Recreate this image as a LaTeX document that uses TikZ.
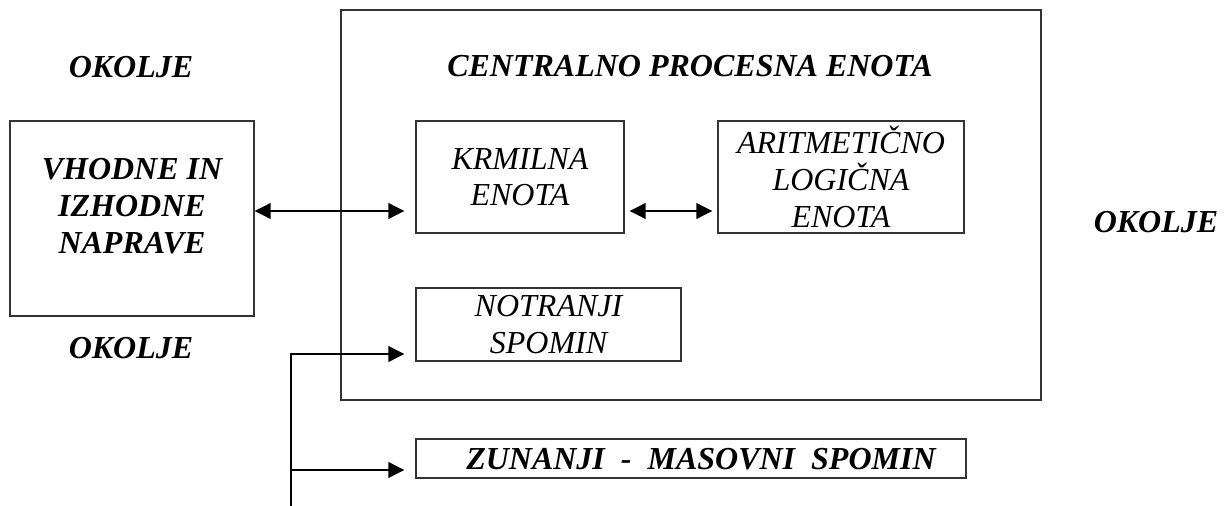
\documentclass[tikz,border=0pt]{standalone}
\usepackage{fontspec}
\setmainfont{Liberation Serif}
\usetikzlibrary{arrows.meta,calc}
\begin{document}
\begin{tikzpicture}[x=0.75pt,y=-0.75pt,
  box/.style={draw=black!80,line width=0.8pt,rectangle,inner sep=0pt},
  boldtxt/.style={font=\fontsize{24}{27.5}\selectfont\bfseries\itshape,align=center,inner sep=0pt},
  itxt/.style={font=\fontsize{24}{27.6}\selectfont\itshape,align=center,inner sep=0pt},
  link/.style={line width=2pt,-{Triangle[length=12pt,width=11.5pt]}},
  dbl/.style={line width=2pt,{Triangle[length=12pt,width=11.5pt]}-{Triangle[length=12pt,width=11.5pt]}}]
\useasboundingbox (0,0) rectangle (1228,506);

% central processing unit frame and its title
\node[box,minimum width=700*0.75pt,minimum height=390*0.75pt] (cpu) at (691,205) {};
\node[boldtxt,anchor=base] (title) at (690,77) {CENTRALNO PROCESNA ENOTA};

% surroundings labels
\node[boldtxt,anchor=base] (env1) at (131,78) {OKOLJE};
\node[boldtxt,anchor=base] (env2) at (131,358) {OKOLJE};
\node[boldtxt,anchor=base] (env3) at (1156,233) {OKOLJE};

% input / output devices
\node[box,minimum width=244*0.75pt,minimum height=195*0.75pt] (io) at (132,218.5) {};
\node[boldtxt] (iotxt) at (132,206) {VHODNE IN\\IZHODNE\\NAPRAVE};

% units inside the processor
\node[box,itxt,minimum width=208*0.75pt,minimum height=112*0.75pt] (krm) at (520,177) {KRMILNA\\ENOTA};
\node[box,itxt,minimum width=246*0.75pt,minimum height=112*0.75pt] (alu) at (841,177) {ARITMETIČNO\\LOGIČNA\\ENOTA};
\node[box,itxt,minimum width=265*0.75pt,minimum height=73*0.75pt] (notr) at (548.5,324.5) {NOTRANJI\\SPOMIN};

% external mass storage
\node[box,minimum width=550*0.75pt,minimum height=39*0.75pt] (zun) at (691,458.5) {};
\node[boldtxt,anchor=base west] (zuntxt) at (466,469) {ZUNANJI\ \ -\ \ MASOVNI\ \ SPOMIN};

% connectors
\coordinate (yarr) at (0,211);
\draw[dbl,shorten >=11*0.75pt] (io.east |- yarr) -- (krm.west |- yarr);
\draw[dbl,shorten <=5*0.75pt,shorten >=5*0.75pt] (krm.east |- yarr) -- (alu.west |- yarr);

\coordinate (bus) at (291,506);
\coordinate (bnotr) at (291,354);
\coordinate (bzun) at (291,470);
\draw[line width=2pt] (bus) -- ([yshift=0.75pt]bnotr);
\draw[link,shorten >=11*0.75pt] (bnotr) -- (notr.west |- bnotr);
\draw[link,shorten >=11*0.75pt] (bzun) -- (zun.west |- bzun);
\end{tikzpicture}
\end{document}
